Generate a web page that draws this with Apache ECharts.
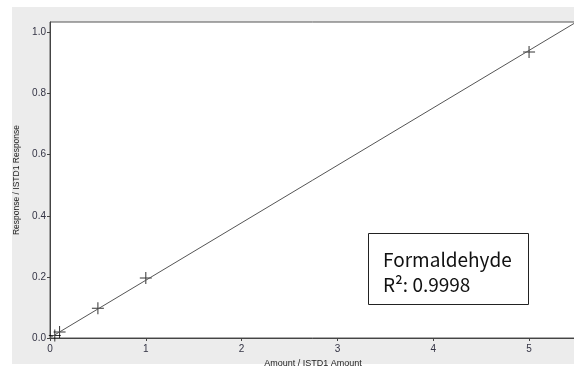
<html lang="en">
<head>
    <meta charset="UTF-8">
    <title>Formaldehyde calibration</title>
    <script src="https://cdn.jsdelivr.net/npm/echarts@6/dist/echarts.min.js"></script>
</head>
<style>
    html, body { margin: 0; padding: 0; background: #fff; }
    #container { width: 574px; height: 367px; }
</style>
<body>
<div id="container"></div>
<script>
    // calibration points (amount ratio, response ratio)
    var amounts = [0.05, 0.1, 0.5, 1, 5];
    var responses = [0.008, 0.02, 0.097, 0.196, 0.936];
    // regression line end points
    var fitX = [0, 5.5];
    var fitY = [0.001, 1.035];

    var chart = echarts.init(document.getElementById('container'));

    var points = amounts.map(function (a, i) { return [a, responses[i]]; });
    var fit = fitX.map(function (x, i) { return [x, fitY[i]]; });

    var option = {
        animation: false,
        graphic: [
            {
                type: 'rect', z: -10, silent: true,
                shape: { x: 12, y: 7, width: 562, height: 357 },
                style: { fill: '#ececec' }
            },
            {
                type: 'rect', z: 10,
                shape: { x: 368.5, y: 233.5, width: 160, height: 71 },
                style: { fill: '#fff', stroke: '#222', lineWidth: 1 }
            },
            {
                type: 'text', z: 11, left: 383, top: 247,
                style: {
                    text: 'Formaldehyde\nR²: 0.9998',
                    font: '19px "Noto Sans CJK JP", "Noto Sans"',
                    lineHeight: 25,
                    fill: '#111'
                }
            }
        ],
        grid: {
            left: 50, top: 22, right: -2, bottom: 29,
            outerBoundsMode: 'none', containLabel: false,
            show: true, backgroundColor: '#fff',
            borderColor: '#555', borderWidth: 1
        },
        xAxis: {
            type: 'value', min: 0, max: 5.49, interval: 1,
            name: 'Amount / ISTD1 Amount', nameLocation: 'middle', nameGap: 17,
            nameTextStyle: { fontFamily: 'Liberation Sans', fontSize: 9, color: '#222' },
            axisLine: { show: true, lineStyle: { color: '#444' } },
            axisTick: { show: true, length: 3, lineStyle: { color: '#444' } },
            axisLabel: {
                fontFamily: 'Liberation Sans', fontSize: 10, color: '#334', margin: 6,
                showMaxLabel: false
            },
            splitLine: { show: false }
        },
        yAxis: {
            type: 'value', min: 0, max: 1.034, interval: 0.2,
            name: 'Response / ISTD1 Response', nameLocation: 'middle', nameGap: 25,
            nameTextStyle: { fontFamily: 'Liberation Sans', fontSize: 8.5, color: '#222' },
            axisLine: { show: true, lineStyle: { color: '#444' } },
            axisTick: { show: true, length: 3, lineStyle: { color: '#444' } },
            axisLabel: {
                fontFamily: 'Liberation Sans', fontSize: 10, color: '#334', margin: 4,
                showMaxLabel: false,
                formatter: function (v) { return v.toFixed(1); }
            },
            splitLine: { show: false }
        },
        series: [
            {
                type: 'line', data: fit, showSymbol: false, silent: true,
                lineStyle: { color: '#555', width: 1 }
            },
            {
                type: 'scatter', data: points, symbolSize: 12,
                symbol: 'path://M0,5.5h12v1h-12zM5.5,0h1v12h-1z',
                itemStyle: { color: '#000' }
            }
        ]
    };

    chart.setOption(option);
</script>
</body>
</html>
